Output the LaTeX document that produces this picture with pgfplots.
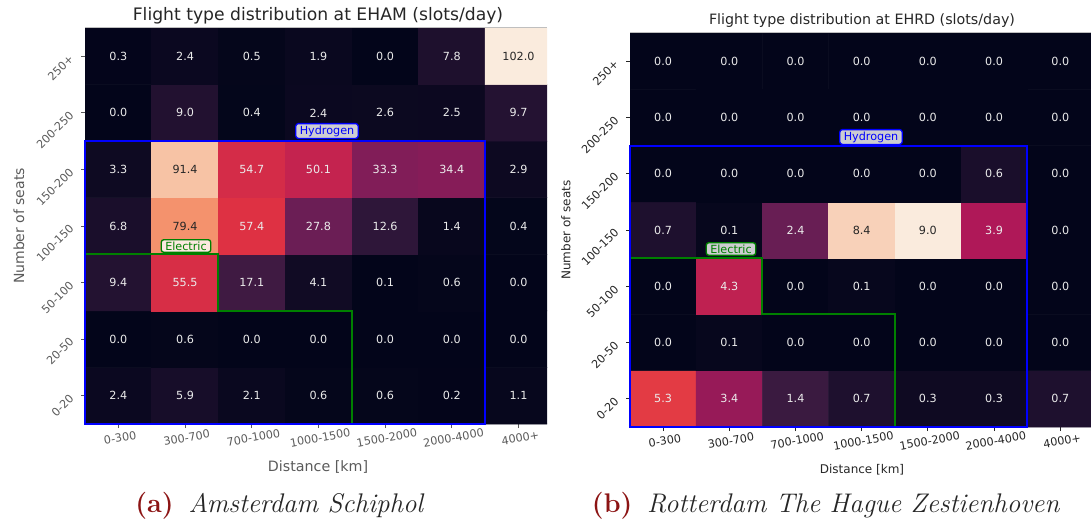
\documentclass[border=0pt]{standalone}
\usepackage{fontspec}
\usepackage{pgfplots}
\pgfplotsset{compat=1.18}
\usepackage{pgfplotstable}
\newfontfamily\dv{DejaVu Sans}
\definecolor{hblue}{RGB}{0,0,255}
\definecolor{egreen}{RGB}{0,128,0}
\definecolor{lgr}{RGB}{90,90,90}
\definecolor{dk}{RGB}{38,38,38}
\definecolor{capred}{RGB}{140,20,20}
\definecolor{wtxt}{RGB}{235,235,235}
\pgfplotsset{colormap={rocket}{rgb255=(3,5,26) rgb255=(53,25,62) rgb255=(112,31,87) rgb255=(173,23,89) rgb255=(225,51,66) rgb255=(243,118,81) rgb255=(246,180,143) rgb255=(250,235,221)}}

% x: distance class, y: seat class, v: slots/day, c: 1 = dark annotation
\pgfplotstableread{
x y v c
0 0 2.4 0
1 0 5.9 0
2 0 2.1 0
3 0 0.6 0
4 0 0.6 0
5 0 0.2 0
6 0 1.1 0
0 1 0.0 0
1 1 0.6 0
2 1 0.0 0
3 1 0.0 0
4 1 0.0 0
5 1 0.0 0
6 1 0.0 0
0 2 9.4 0
1 2 55.5 0
2 2 17.1 0
3 2 4.1 0
4 2 0.1 0
5 2 0.6 0
6 2 0.0 0
0 3 6.8 0
1 3 79.4 1
2 3 57.4 0
3 3 27.8 0
4 3 12.6 0
5 3 1.4 0
6 3 0.4 0
0 4 3.3 0
1 4 91.4 1
2 4 54.7 0
3 4 50.1 0
4 4 33.3 0
5 4 34.4 0
6 4 2.9 0
0 5 0.0 0
1 5 9.0 0
2 5 0.4 0
3 5 2.4 0
4 5 2.6 0
5 5 2.5 0
6 5 9.7 0
0 6 0.3 0
1 6 2.4 0
2 6 0.5 0
3 6 1.9 0
4 6 0.0 0
5 6 7.8 0
6 6 102.0 1
}\eham

\pgfplotstableread{
x y v c
0 0 5.3 0
1 0 3.4 0
2 0 1.4 0
3 0 0.7 0
4 0 0.3 0
5 0 0.3 0
6 0 0.7 0
0 1 0.0 0
1 1 0.1 0
2 1 0.0 0
3 1 0.0 0
4 1 0.0 0
5 1 0.0 0
6 1 0.0 0
0 2 0.0 0
1 2 4.3 0
2 2 0.0 0
3 2 0.1 0
4 2 0.0 0
5 2 0.0 0
6 2 0.0 0
0 3 0.7 0
1 3 0.1 0
2 3 2.4 0
3 3 8.4 1
4 3 9.0 1
5 3 3.9 0
6 3 0.0 0
0 4 0.0 0
1 4 0.0 0
2 4 0.0 0
3 4 0.0 0
4 4 0.0 0
5 4 0.6 0
6 4 0.0 0
0 5 0.0 0
1 5 0.0 0
2 5 0.0 0
3 5 0.0 0
4 5 0.0 0
5 5 0.0 0
6 5 0.0 0
0 6 0.0 0
1 6 0.0 0
2 6 0.0 0
3 6 0.0 0
4 6 0.0 0
5 6 0.0 0
6 6 0.0 0
}\ehrd

\pgfplotsset{
  heat/.style={
    scale only axis, xmin=-0.5, ymin=-0.5, ymax=6.5,
    axis line style={draw=none},
    tick pos=left, tick align=outside, major tick length=3pt,
    xtick={0,...,6}, ytick={0,...,6},
    xticklabels={0-300,300-700,700-1000,1000-1500,1500-2000,2000-4000,4000+},
    yticklabels={0-20,20-50,50-100,100-150,150-200,200-250,250+},
    xticklabel style={rotate=10, anchor=north, inner sep=2pt, yshift=-2pt},
    yticklabel style={xshift=-9.4pt, yshift=1.9pt, rotate=45, anchor=north east, inner sep=0pt},
    ticklabel style={font=\dv\fontsize{8.4}{10}\selectfont},
    colormap name=rocket, point meta min=0,
    enlargelimits=false,
  },
  annot/.style={draw=none, mark=none, nodes near coords, nodes near coords align=center,
    point meta=explicit symbolic, unbounded coords=discard,
    nodes near coords style={font=\dv\fontsize{8.4}{10}\selectfont, anchor=center, text=#1}},
}
\tikzset{
  lab/.style={draw=#1, fill=white, fill opacity=0.8, text opacity=1, rounded corners=2pt,
    line width=1pt, text=#1, font=\dv\fontsize{8.4}{10}\selectfont, inner xsep=3pt, inner ysep=1.5pt},
}

\begin{document}
\begin{tikzpicture}[x=0.75pt,y=-0.75pt]
\path[use as bounding box] (0,0) rectangle (1091,522);

% ---------- (a) EHAM ----------
\begin{axis}[heat, at={(63.75pt,-318pt)}, anchor=south west,
  width=346.5pt, height=297pt, xmax=6.427, point meta max=102,
  tick style={lgr, line width=0.6pt}, ticklabel style={text=lgr}]
\addplot[matrix plot*, mesh/cols=7, point meta=explicit] table[x=x,y=y,meta=v] {\eham};
\addplot[annot=wtxt, restrict expr to domain={\thisrow{c}}{-0.5:0.5}] table[x=x,y=y,meta=v] {\eham};
\addplot[annot=dk, restrict expr to domain={\thisrow{c}}{0.5:1.5}] table[x=x,y=y,meta=v] {\eham};
\coordinate (a1) at (axis cs:-0.5,-0.5);
\coordinate (a2) at (axis cs:5.5,4.5);
\coordinate (ag1) at (axis cs:-0.5,2.5);
\coordinate (ag2) at (axis cs:1.5,2.5);
\coordinate (ag3) at (axis cs:1.5,1.5);
\coordinate (ag4) at (axis cs:3.5,1.5);
\coordinate (ag5) at (axis cs:3.5,-0.5);
\end{axis}
\draw[black!25, line width=0.4pt] (85,27.5) -- (547,27.5);
\draw[egreen, line width=1.5pt] (ag1) -- (ag2) -- (ag3) -- (ag4) -- (ag5);
\draw[hblue, line width=1.5pt] (a1) rectangle (a2);
\node[lab=hblue] at (327,131) {Hydrogen};
\node[lab=egreen] at (186,246) {Electric};
\node[font=\dv\fontsize{12.9}{15}\selectfont, text=dk] at (318,16) {Flight type distribution at EHAM (slots/day)};
\node[font=\dv\fontsize{10.5}{12}\selectfont, text=lgr, rotate=90] at (19,226) {Number of seats};
\node[font=\dv\fontsize{10.7}{12}\selectfont, text=lgr] at (318,467) {Distance [km]};
\node[font=\fontsize{20.2}{23}\selectfont] at (280,506) {\textcolor{capred}{\textbf{(a)}}\hspace{0.55em}\textcolor{black!85}{\textit{Amsterdam Schiphol}}};

% ---------- (b) EHRD ----------
\begin{axis}[heat, at={(472.5pt,-320.25pt)}, anchor=south west,
  width=345.75pt, height=295.5pt, xmax=6.464, point meta max=9,
  tick style={dk, line width=0.6pt}, ticklabel style={text=dk}]
\addplot[matrix plot*, mesh/cols=7, point meta=explicit] table[x=x,y=y,meta=v] {\ehrd};
\addplot[annot=wtxt, restrict expr to domain={\thisrow{c}}{-0.5:0.5}] table[x=x,y=y,meta=v] {\ehrd};
\addplot[annot=dk, restrict expr to domain={\thisrow{c}}{0.5:1.5}] table[x=x,y=y,meta=v] {\ehrd};
\coordinate (b1) at (axis cs:-0.5,-0.5);
\coordinate (b2) at (axis cs:5.5,4.5);
\coordinate (bg1) at (axis cs:-0.5,2.5);
\coordinate (bg2) at (axis cs:1.5,2.5);
\coordinate (bg3) at (axis cs:1.5,1.5);
\coordinate (bg4) at (axis cs:3.5,1.5);
\coordinate (bg5) at (axis cs:3.5,-0.5);
\end{axis}
\draw[black!25, line width=0.4pt] (630,32.5) -- (1091,32.5);
\draw[egreen, line width=1.5pt] (bg1) -- (bg2) -- (bg3) -- (bg4) -- (bg5);
\draw[hblue, line width=1.5pt] (b1) rectangle (b2);
\node[lab=hblue] at (871,137) {Hydrogen};
\node[lab=egreen] at (731,249) {Electric};
\node[font=\dv\fontsize{10.7}{12}\selectfont, text=dk] at (862,21) {Flight type distribution at EHRD (slots/day)};
\node[font=\dv\fontsize{9}{11}\selectfont, text=dk, rotate=90] at (566,230) {Number of seats};
\node[font=\dv\fontsize{9}{11}\selectfont, text=dk] at (862,470) {Distance [km]};
\node[font=\fontsize{20.2}{23}\selectfont] at (826,506) {\textcolor{capred}{\textbf{(b)}}\hspace{0.55em}\textcolor{black!85}{\textit{Rotterdam The Hague Zestienhoven}}};
\end{tikzpicture}
\end{document}
